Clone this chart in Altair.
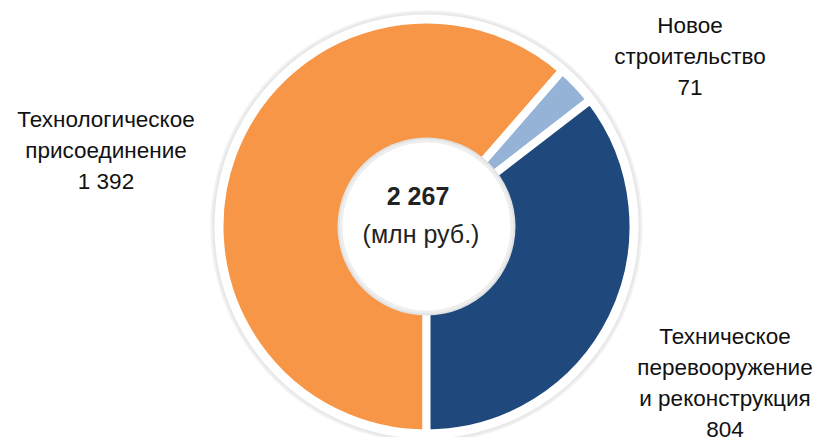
import math
import altair as alt
import pandas as pd

# ---- data ----
categories = ["Технологическое присоединение", "Новое строительство", "Техническое перевооружение и реконструкция"]
values = [1392, 71, 804]
colors = ["#F79646", "#95B3D7", "#1F497D"]
label_lines = [
    ["Технологическое", "присоединение"],
    ["Новое", "строительство"],
    ["Техническое", "перевооружение", "и реконструкция"],
]
unit_text = "(млн руб.)"

FONT = "Liberation Sans, Arial, sans-serif"

def fmt(v):
    return f"{v:,}".replace(",", " ")

df = pd.DataFrame({
    "category": categories,
    "value": values,
    "idx": list(range(len(values))),
    "label": ["\n".join(l + [fmt(v)]) for l, v in zip(label_lines, values)],
})

W, H = 805, 429
CX, CY = 418.5, 218.5

one = pd.DataFrame({"a": [0]})

def disc(r_out, r_in, fill):
    return alt.Chart(one).mark_arc(
        radius=r_out, radius2=r_in, theta=0, theta2=2 * math.pi, fill=fill, stroke=None
    ).encode(x=alt.value(CX), y=alt.value(CY))

shadow = disc(216, 0, "#f1f1f1")
shadow2 = disc(214, 0, "#e8e8e8")
ring = disc(212, 0, "#ffffff")

donut = alt.Chart(df).mark_arc(
    radius=207, radius2=80, stroke="white", strokeWidth=8
).encode(
    theta=alt.Theta("value:Q", stack=True, scale=alt.Scale(range=[math.pi, 3 * math.pi])),
    order=alt.Order("idx:Q"),
    color=alt.Color("category:N", scale=alt.Scale(domain=categories, range=colors), legend=None),
    x=alt.value(CX), y=alt.value(CY),
)

inner1 = disc(89, 0, "#e2e2e2")
inner2 = disc(87, 0, "#eeeeee")
inner3 = disc(84, 0, "#ffffff")

lab_x = [98, 682, 717]
lab_y = [119, 25, 336]
lab_df = df.assign(lx=lab_x, ly=lab_y)

labels = alt.Chart(lab_df).mark_text(
    font=FONT, fontSize=22.5, lineBreak="\n", lineHeight=31, align="center",
    baseline="alphabetic", color="#111111"
).encode(
    text="label:N",
    x=alt.X("lx:Q", scale=alt.Scale(domain=[0, W], range=[0, W]), axis=None),
    y=alt.Y("ly:Q", scale=alt.Scale(domain=[0, H], range=[0, H]), axis=None),
)

total_df = pd.DataFrame({"t": [fmt(sum(values))], "u": [unit_text]})
total_txt = alt.Chart(total_df).mark_text(
    font=FONT, fontSize=25, fontWeight="bold", align="center", baseline="alphabetic", color="#222222"
).encode(text="t:N", x=alt.value(410), y=alt.value(197))
unit_txt = alt.Chart(total_df).mark_text(
    font=FONT, fontSize=25, align="center", baseline="alphabetic", color="#222222"
).encode(text="u:N", x=alt.value(413), y=alt.value(235))

chart = alt.layer(
    shadow, shadow2, ring, donut, inner1, inner2, inner3, labels, total_txt, unit_txt
).properties(
    width=W, height=H, padding=0, autosize="none"
).configure_view(stroke=None)

chart.save("out.html", embed_options={"renderer": "svg", "actions": False})
